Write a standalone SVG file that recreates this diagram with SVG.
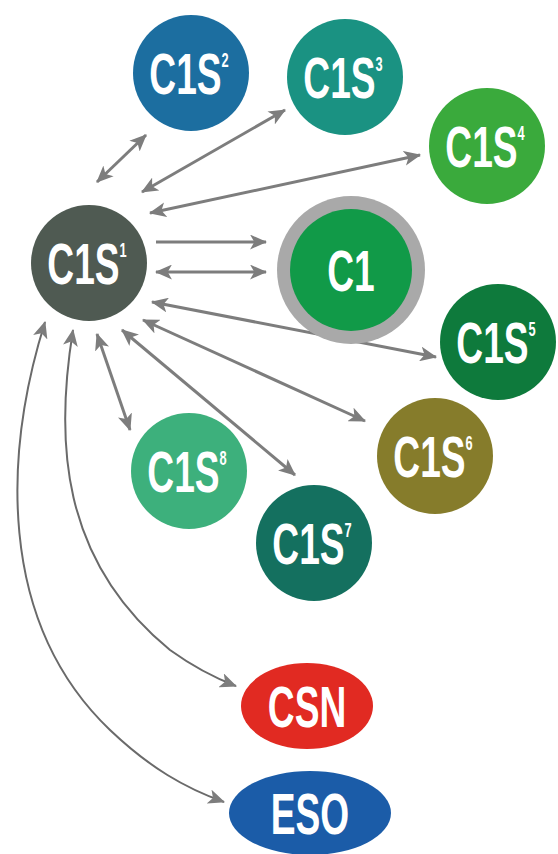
<svg xmlns="http://www.w3.org/2000/svg" width="558" height="854" viewBox="0 0 558 854">
<defs>
<marker id="ah" viewBox="0 0 16 14" refX="15" refY="7" markerWidth="17" markerHeight="15" markerUnits="userSpaceOnUse" orient="auto-start-reverse">
<path d="M0,0 L16,7 L0,14 L4,7 Z" fill="#7d7d7d"/>
</marker>
</defs>
<style>
.lbl{font-family:"Liberation Sans",Arial,sans-serif;font-weight:bold;fill:#fff;text-anchor:middle;font-size:58px}
.sup{font-size:20px}
.ln{stroke:#7d7d7d;stroke-width:3;fill:none}
.cv{stroke:#6a6a6a;stroke-width:2;fill:none}
</style>
<rect width="558" height="854" fill="#fff"/>
<g id="connectors">
<line class="ln" x1="97" y1="182" x2="146" y2="135" marker-start="url(#ah)" marker-end="url(#ah)"/>
<line class="ln" x1="142" y1="192" x2="285" y2="110" marker-start="url(#ah)" marker-end="url(#ah)"/>
<line class="ln" x1="150" y1="213" x2="420" y2="155" marker-start="url(#ah)" marker-end="url(#ah)"/>
<line class="ln" x1="156" y1="242" x2="266" y2="242" marker-end="url(#ah)"/>
<line class="ln" x1="156" y1="272" x2="266" y2="272" marker-start="url(#ah)" marker-end="url(#ah)"/>
<line class="ln" x1="152" y1="302" x2="436" y2="357" marker-start="url(#ah)" marker-end="url(#ah)"/>
<line class="ln" x1="143" y1="320" x2="365" y2="421" marker-start="url(#ah)" marker-end="url(#ah)"/>
<line class="ln" x1="122" y1="330" x2="295" y2="475" marker-start="url(#ah)" marker-end="url(#ah)"/>
<line class="ln" x1="97" y1="334" x2="130" y2="430" marker-start="url(#ah)" marker-end="url(#ah)"/>
<path class="cv" d="M73,330 C55,440 60,560 170,650 C195,668 215,678 236,686" marker-start="url(#ah)" marker-end="url(#ah)"/>
<path class="cv" d="M45,322 C5,450 -5,620 110,730 C150,768 185,788 224,802" marker-start="url(#ah)" marker-end="url(#ah)"/>
</g>
<g id="C1S1"><circle cx="89" cy="263" r="58" fill="#4f5a52"/><text class="lbl" transform="translate(87,284) scale(0.64,1)">C1S<tspan class="sup" dy="-27">1</tspan></text></g>
<g id="C1S2"><circle cx="191" cy="73" r="58" fill="#1c6ea0"/><text class="lbl" transform="translate(189,94) scale(0.64,1)">C1S<tspan class="sup" dy="-27">2</tspan></text></g>
<g id="C1S3"><circle cx="345" cy="77" r="58" fill="#1a9282"/><text class="lbl" transform="translate(343,98) scale(0.64,1)">C1S<tspan class="sup" dy="-27">3</tspan></text></g>
<g id="C1S4"><circle cx="487" cy="146" r="58" fill="#3aaa3c"/><text class="lbl" transform="translate(485,167) scale(0.64,1)">C1S<tspan class="sup" dy="-27">4</tspan></text></g>
<g id="C1"><circle cx="351" cy="270" r="74" fill="#a9a9a9"/><circle cx="351" cy="270" r="61" fill="#119a48"/><text class="lbl" transform="translate(351,291) scale(0.64,1)">C1</text></g>
<g id="C1S5"><circle cx="498" cy="342" r="58" fill="#0e7a3c"/><text class="lbl" transform="translate(496,363) scale(0.64,1)">C1S<tspan class="sup" dy="-27">5</tspan></text></g>
<g id="C1S6"><circle cx="435" cy="456" r="58" fill="#867c2b"/><text class="lbl" transform="translate(433,477) scale(0.64,1)">C1S<tspan class="sup" dy="-27">6</tspan></text></g>
<g id="C1S8"><circle cx="189" cy="471" r="58" fill="#3db07c"/><text class="lbl" transform="translate(187,492) scale(0.64,1)">C1S<tspan class="sup" dy="-27">8</tspan></text></g>
<g id="C1S7"><circle cx="314" cy="543" r="58" fill="#14705f"/><text class="lbl" transform="translate(312,564) scale(0.64,1)">C1S<tspan class="sup" dy="-27">7</tspan></text></g>
<g id="CSN"><ellipse cx="307" cy="706" rx="66" ry="43" fill="#e12a22"/><text class="lbl" transform="translate(307,727) scale(0.64,1)">CSN</text></g>
<g id="ESO"><ellipse cx="310" cy="813" rx="81" ry="42" fill="#1b5ca8"/><text class="lbl" transform="translate(310,834) scale(0.64,1)">ESO</text></g>
</svg>
